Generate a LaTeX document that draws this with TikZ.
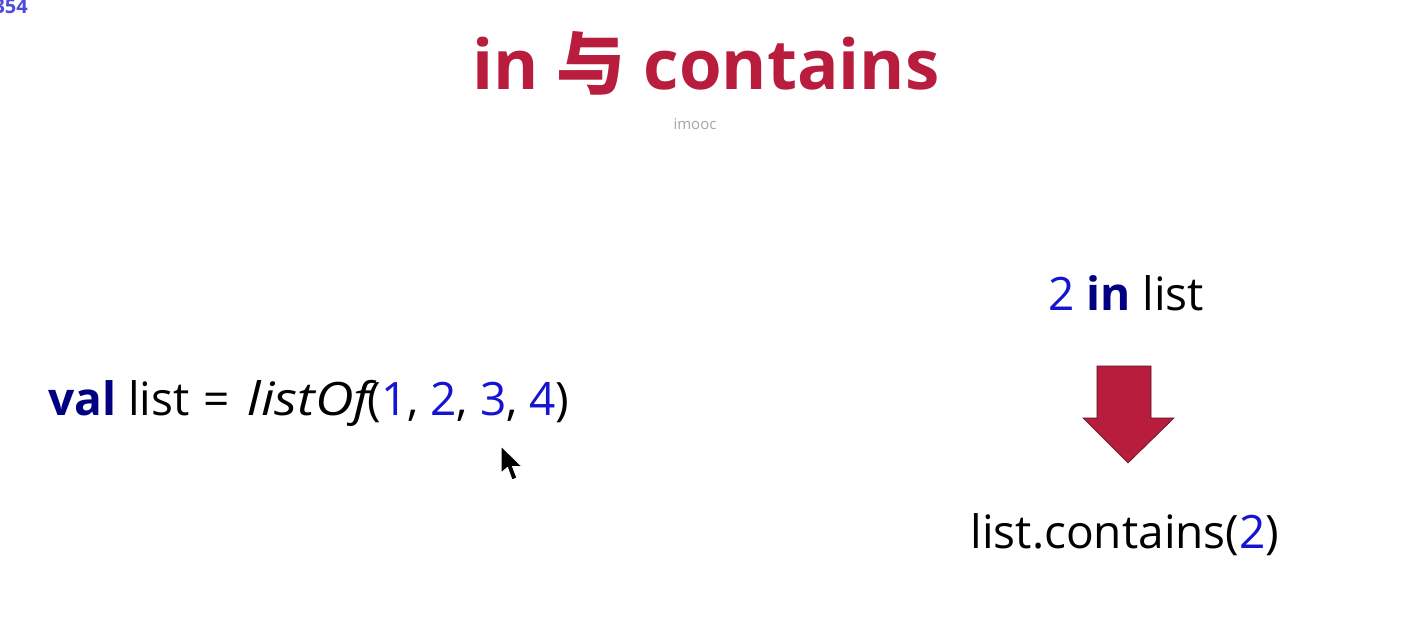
\documentclass[tikz,border=0pt]{standalone}
\usepackage{fontspec}
\usepackage{graphicx}
\setmainfont{Open Sans}
\newfontfamily\cjkbold{Noto Sans CJK SC Bold}
\usetikzlibrary{positioning}

\definecolor{crimson}{HTML}{B81D3E}
\definecolor{kwnavy}{HTML}{000080}
\definecolor{numblue}{HTML}{1414D2}
\definecolor{tagblue}{HTML}{4B4BE0}
\definecolor{softgray}{HTML}{A6A6A6}
\definecolor{outline}{HTML}{5A1020}

\tikzset{
  codetext/.style={inner sep=0pt, anchor=base, font=\fontsize{46}{52}\selectfont},
  titletext/.style={inner sep=0pt, anchor=base, text=crimson,
    font=\fontsize{69}{75}\selectfont\bfseries},
  bigarrow/.style={fill=crimson, draw=outline, line width=0.6pt, line join=miter},
  pointer/.style={fill=black, draw=white, line width=1pt, line join=round}
}
\newcommand{\kw}[1]{\textcolor{kwnavy}{\textbf{#1}}}
\newcommand{\num}[1]{\textcolor{numblue}{#1}}
\newcommand{\fncall}[1]{\textit{\scalebox{1.16}[1]{#1}}}

\begin{document}
\begin{tikzpicture}[x=1pt, y=-1pt]
  \useasboundingbox[fill=white] (0,0) rectangle (1406,639);

  % slide counter in the corner
  \node[inner sep=0pt, anchor=base east, text=tagblue,
        font=\fontsize{20}{22}\selectfont\bfseries] (tag) at (28,14) {354};

  % heading
  \node[titletext] (title) at (706,90)
    {in {\cjkbold 与} contains};
  \node[inner sep=0pt, anchor=base, text=softgray,
        font=\fontsize{15}{17}\selectfont] (brand) at (695,130) {imooc};

  % declaration on the left
  \node[codetext, anchor=base west] (decl) at (48,415)
    {\kw{val} list\hspace{2pt} =\hspace{6pt} \fncall{listOf}\hspace{-3pt}(\num{1}, \num{2}, \num{3}, \num{4})};

  % the rewrite on the right
  \node[codetext] (infix) at (1126,310) {\num{2} \kw{in} list};
  \node[codetext] (call) at (1125,548) {list.contains(\num{2})};

  % block arrow between the two forms
  \draw[bigarrow] (1097,366) -- (1151,366) -- (1151,418) -- (1174,418)
     -- (1128,463) -- (1083,418) -- (1097,418) -- cycle;

  % mouse pointer
  \begin{scope}[shift={(501,446)}]
    \draw[pointer] (0,0) -- (0,27) -- (6.5,21.5) -- (11,34) -- (16,32)
      -- (11.5,20.5) -- (21,20.5) -- cycle;
  \end{scope}
\end{tikzpicture}
\end{document}
